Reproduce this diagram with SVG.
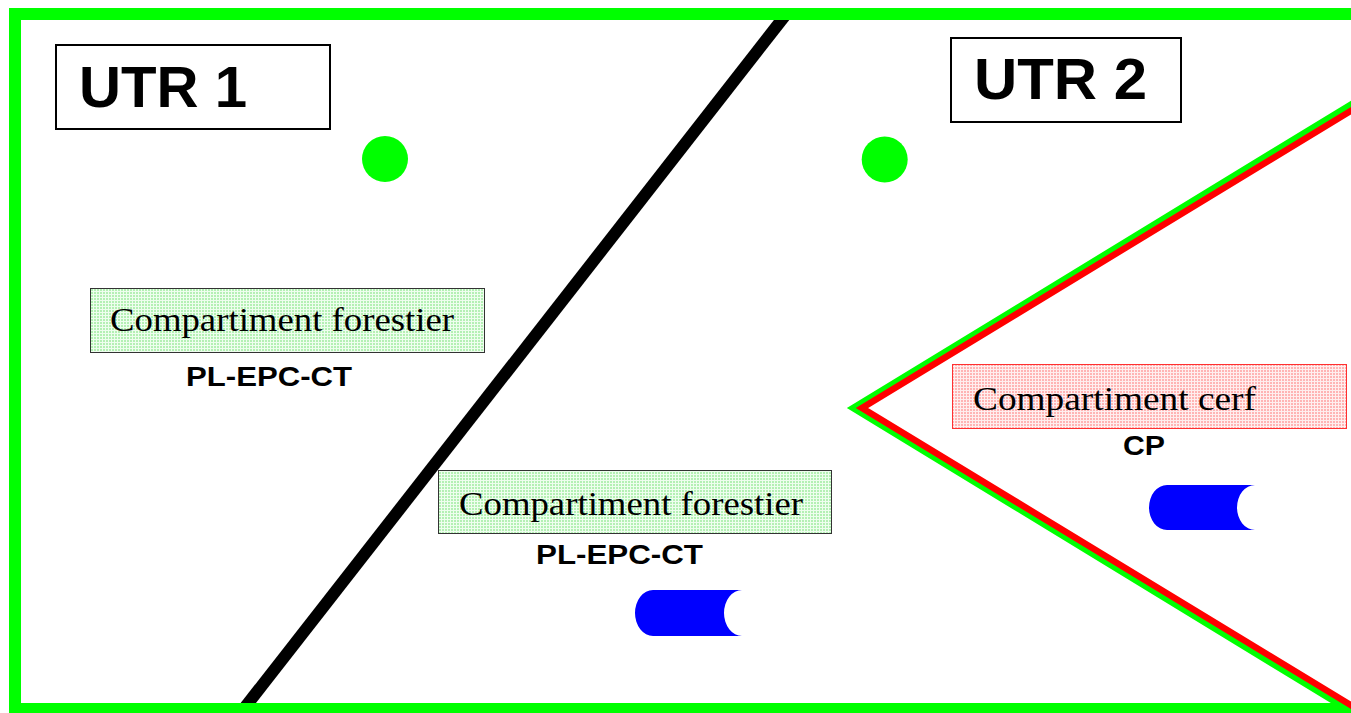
<svg xmlns="http://www.w3.org/2000/svg" width="1351" height="713" viewBox="0 0 1351 713">
<style>
.utr{font-family:"Liberation Sans",Arial,sans-serif;font-weight:bold;font-size:57px;fill:#000}
.lbl{font-family:"Liberation Serif","Times New Roman",serif;font-size:33px;fill:#000}
.code{font-family:"Liberation Sans",Arial,sans-serif;font-weight:bold;font-size:27px;fill:#000}
.box{fill:#fff;stroke:#000;stroke-width:2}
.gbox{fill:url(#pg);stroke:#333;stroke-width:1}
.rbox{fill:url(#pr);stroke:#ff3030;stroke-width:1}
.dot{fill:#00ff00}
.can{fill:#0000ff}
</style>
<defs>
<pattern id="pg" width="3" height="3" patternUnits="userSpaceOnUse">
<rect width="3" height="3" fill="#b4f0b4"/>
<rect x="0" y="0" width="3" height="1" fill="#eefeee"/>
<rect x="0" y="0" width="1" height="3" fill="#eefeee"/>
</pattern>
<pattern id="pr" width="3" height="3" patternUnits="userSpaceOnUse">
<rect width="3" height="3" fill="#ffb4b4"/>
<rect x="0" y="0" width="3" height="1" fill="#ffeeee"/>
<rect x="0" y="0" width="1" height="3" fill="#ffeeee"/>
</pattern>
</defs>
<rect width="1351" height="713" fill="#fff"/>
<g id="connectors">
<line id="boundary-utr" x1="786.3" y1="14" x2="243.6" y2="709" stroke="#000" stroke-width="12"/>
<rect id="frame" x="15" y="14" width="1360" height="695" fill="none" stroke="#00ff00" stroke-width="12"/>
<polyline id="cerf-green" points="1362,99 855,408 1362,717" fill="none" stroke="#00ff00" stroke-width="8.5"/>
<polyline id="cerf-red" points="1362,104 862,408 1362,712" fill="none" stroke="#ff0000" stroke-width="6.5"/>
</g>
<g id="utr1">
<rect class="box" x="56" y="45" width="274" height="84"/>
<text class="utr" x="79" y="107" textLength="168" lengthAdjust="spacingAndGlyphs">UTR 1</text>
</g>
<g id="utr2">
<rect class="box" x="951" y="38" width="230" height="84"/>
<text class="utr" x="974" y="99" textLength="173" lengthAdjust="spacingAndGlyphs">UTR 2</text>
</g>
<g id="dot1"><circle class="dot" cx="385" cy="159" r="23"/></g>
<g id="dot2"><circle class="dot" cx="884.7" cy="159.5" r="23"/></g>
<g id="forest1">
<rect class="gbox" x="90.5" y="288.5" width="394" height="64"/>
<text class="lbl" x="110" y="331" textLength="344" lengthAdjust="spacingAndGlyphs">Compartiment forestier</text>
<text class="code" x="186" y="386" textLength="166" lengthAdjust="spacingAndGlyphs">PL-EPC-CT</text>
</g>
<g id="forest2">
<rect class="gbox" x="438.5" y="470.5" width="393" height="63"/>
<text class="lbl" x="459" y="515" textLength="344" lengthAdjust="spacingAndGlyphs">Compartiment forestier</text>
<text class="code" x="536" y="564" textLength="167" lengthAdjust="spacingAndGlyphs">PL-EPC-CT</text>
</g>
<g id="cerf">
<rect class="rbox" x="952.5" y="364.5" width="394" height="64"/>
<text class="lbl" x="973" y="410" textLength="283" lengthAdjust="spacingAndGlyphs">Compartiment cerf</text>
<text class="code" x="1123" y="455" textLength="42" lengthAdjust="spacingAndGlyphs">CP</text>
</g>
<g id="can1">
<path class="can" d="M653,590 L742,590 A18,23 0 0 0 742,636 L653,636 A18,23 0 0 1 653,590 Z"/>
</g>
<g id="can2">
<path class="can" d="M1167,485 L1255,485 A18,22.5 0 0 0 1255,530 L1167,530 A18,22.5 0 0 1 1167,485 Z"/>
</g>
</svg>
